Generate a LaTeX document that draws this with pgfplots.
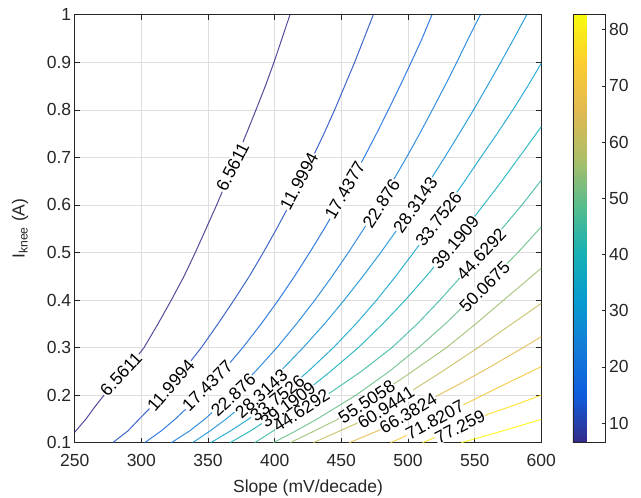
\documentclass[border=0pt]{standalone}
\usepackage{fontspec}
\setmainfont{Liberation Sans}
\setsansfont{Liberation Sans}
\usepackage{pgfplots}
\pgfplotsset{compat=1.18}

\definecolor{txt}{rgb}{0.15,0.15,0.15}
\definecolor{gridc}{rgb}{0.87,0.87,0.87}
\newcommand\fs{\fontsize{17.5bp}{21bp}\selectfont}

\pgfplotsset{
  colormap={parula}{
    rgb=(0.2081,0.1663,0.5292) rgb=(0.0591,0.3598,0.8683)
    rgb=(0.0723,0.4887,0.8467) rgb=(0.0265,0.6137,0.8135)
    rgb=(0.0843,0.6928,0.7062) rgb=(0.3482,0.7424,0.5473)
    rgb=(0.6834,0.7435,0.4044) rgb=(0.8824,0.7274,0.3217)
    rgb=(0.9880,0.8066,0.1794) rgb=(0.9763,0.9831,0.0538)},
  lvl/.style={mesh, line width=1bp, draw opacity=0.85, point meta=#1},
}

% contour labels: x, y, angle, text
\newcommand\contourlabels[2]{%
  \node[#1, rotate=47] at (axis cs:284.75,0.244) {#2{6.5611}};
  \node[#1, rotate=63] at (axis cs:368.4,0.68) {#2{6.5611}};
  \node[#1, rotate=49] at (axis cs:322.1,0.221) {#2{11.9994}};
  \node[#1, rotate=62] at (axis cs:418.4,0.65) {#2{11.9994}};
  \node[#1, rotate=45] at (axis cs:349.6,0.22) {#2{17.4377}};
  \node[#1, rotate=60] at (axis cs:452.7,0.631) {#2{17.4377}};
  \node[#1, rotate=43] at (axis cs:369,0.2) {#2{22.876}};
  \node[#1, rotate=57] at (axis cs:480,0.603) {#2{22.876}};
  \node[#1, rotate=42] at (axis cs:390,0.203) {#2{28.3143}};
  \node[#1, rotate=55] at (axis cs:505.5,0.6) {#2{28.3143}};
  \node[#1, rotate=38] at (axis cs:402,0.193) {#2{33.7526}};
  \node[#1, rotate=52] at (axis cs:523,0.57) {#2{33.7526}};
  \node[#1, rotate=37] at (axis cs:410,0.18) {#2{39.1909}};
  \node[#1, rotate=50] at (axis cs:535.5,0.521) {#2{39.1909}};
  \node[#1, rotate=33] at (axis cs:420,0.168) {#2{44.6292}};
  \node[#1, rotate=47] at (axis cs:555,0.496) {#2{44.6292}};
  \node[#1, rotate=45] at (axis cs:557.5,0.428) {#2{50.0675}};
  \node[#1, rotate=33] at (axis cs:469,0.186) {#2{55.5058}};
  \node[#1, rotate=32.5] at (axis cs:483.5,0.174) {#2{60.9441}};
  \node[#1, rotate=31] at (axis cs:500.2,0.162) {#2{66.3824}};
  \node[#1, rotate=28] at (axis cs:520.2,0.148) {#2{71.8207}};
  \node[#1, rotate=27] at (axis cs:539,0.134) {#2{77.259}};
}

\begin{document}
\begin{tikzpicture}
\path[use as bounding box] (-74.7bp,-55.3bp) rectangle (566.3bp,442.7bp);
\begin{axis}[
  at={(0,0)}, anchor=south west,
  scale only axis, width=466.6bp, height=428bp,
  xmin=250, xmax=600, ymin=0.1, ymax=1,
  xtick={250,300,...,600},
  ytick={0.1,0.2,0.3,0.4,0.5,0.6,0.7,0.8,0.9,1},
  scaled y ticks=false,
  /pgf/number format/assume math mode=true,
  yticklabel style={/pgf/number format/fixed, /pgf/number format/precision=1},
  xticklabel style={yshift=-8bp},
  ticklabel style={font=\fs, text=txt},
  grid=major, major grid style={gridc, line width=0.6bp},
  tick align=inside, major tick length=5bp,
  tick style={txt, line width=0.6bp},
  axis line style={txt, line width=0.6bp},
  xlabel={Slope (mV/decade)},
  xlabel style={font=\fs, text=txt, at={(axis description cs:0.5,0)}, anchor=base, yshift=-50bp},
  ylabel={I\textsubscript{knee} (A)},
  ylabel style={font=\fs, text=txt, at={(axis description cs:-0.117,0.5)}, anchor=center},
  colormap name=parula,
  point meta min=6.5, point meta max=82.65,
  colorbar,
  colorbar style={
    at={(parent axis.north east)}, anchor=north west, xshift=23bp,
    width=32.7bp, scale only axis,
    ytick={10,20,...,80},
    ytick pos=right, yticklabel pos=right,
    tick align=inside, major tick length=4bp,
    tick style={txt, line width=0.6bp},
    axis line style={txt, line width=0.6bp},
    /pgf/number format/assume math mode=true,
    yticklabel style={font=\fs, text=txt},
  },
]
\addplot[lvl=6.5611] coordinates {(250,0.122) (258.5,0.15) (265,0.175) (272,0.2) (280,0.225) (287,0.25) (295,0.275) (302,0.3) (312.5,0.35) (322.5,0.4) (332,0.45) (340.5,0.5) (348.5,0.55) (356.5,0.6) (364,0.65) (371.5,0.7) (378.8,0.75) (386,0.8) (393,0.85) (399.5,0.9) (405.5,0.95) (411.5,1)};
\addplot[lvl=11.9994] coordinates {(278.5,0.1) (290,0.125) (298.5,0.15) (316,0.2) (331,0.25) (345,0.3) (357.5,0.35) (369.5,0.4) (381,0.45) (391.5,0.5) (401.5,0.55) (411,0.6) (420,0.65) (428.5,0.7) (437,0.75) (445,0.8) (452.5,0.85) (460,0.9) (467,0.95) (474,1)};
\addplot[lvl=17.4377] coordinates {(302.5,0.1) (315,0.125) (325.5,0.15) (344.4,0.2) (361,0.25) (376.1,0.3) (389.9,0.35) (402.8,0.4) (414.9,0.45) (426.3,0.5) (437.2,0.55) (447.6,0.6) (457.5,0.65) (467.1,0.7) (476.4,0.75) (485.3,0.8) (494,0.85) (502.4,0.9) (510.6,0.95) (518,1)};
\addplot[lvl=22.876] coordinates {(322.5,0.1) (336.3,0.125) (347.7,0.15) (367.8,0.2) (385.6,0.25) (401.7,0.3) (416.4,0.35) (430.2,0.4) (443.1,0.45) (455.3,0.5) (466.9,0.55) (478,0.6) (488.6,0.65) (498.9,0.7) (508.8,0.75) (518.3,0.8) (527.6,0.85) (536.6,0.9) (545.3,0.95) (554.3,1)};
\addplot[lvl=28.3143] coordinates {(338.4,0.1) (351.7,0.125) (363.7,0.15) (385.2,0.2) (404.2,0.25) (421.4,0.3) (437.4,0.35) (452.2,0.4) (466.2,0.45) (479.6,0.5) (492.3,0.55) (504.4,0.6) (516.2,0.65) (527.5,0.7) (538.5,0.75) (549.2,0.8) (559.5,0.85) (569.6,0.9) (579.5,0.95) (589.1,1)};
\addplot[lvl=33.7526] coordinates {(352,0.1) (367,0.125) (380.6,0.15) (404.4,0.2) (425.1,0.25) (444.1,0.3) (461,0.35) (476.5,0.4) (490.8,0.45) (504.2,0.5) (517.4,0.55) (530,0.6) (542.5,0.65) (554.6,0.7) (566.9,0.75) (578.7,0.8) (589.9,0.85) (600,0.898)};
\addplot[lvl=39.1909] coordinates {(366.5,0.1) (382,0.125) (395.7,0.15) (419.8,0.2) (441.9,0.25) (462.8,0.3) (481.1,0.35) (498,0.4) (513.7,0.45) (528.5,0.5) (542.9,0.55) (556.7,0.6) (570.3,0.65) (583.3,0.7) (600,0.7645)};
\addplot[lvl=44.6292] coordinates {(385,0.1) (399,0.125) (412,0.15) (439,0.2) (465,0.25) (488,0.3) (507,0.35) (524,0.4) (540,0.45) (555.5,0.5) (570.5,0.55) (585.5,0.6) (600,0.652)};
\addplot[lvl=50.0675] coordinates {(399,0.1) (416,0.125) (432,0.15) (461,0.2) (486,0.25) (508,0.3) (528,0.35) (546.5,0.4) (565,0.45) (582.5,0.5) (600,0.554)};
\addplot[lvl=55.5058] coordinates {(411.5,0.1) (430,0.125) (446.5,0.148) (468,0.186) (494,0.232) (511,0.265) (528.9,0.3) (550.9,0.35) (571.8,0.4) (600,0.467)};
\addplot[lvl=60.9441] coordinates {(429,0.1) (445,0.12) (461,0.14) (483,0.174) (505,0.213) (525.7,0.25) (552.6,0.3) (578,0.35) (600,0.393)};
\addplot[lvl=66.3824] coordinates {(456,0.1) (479,0.127) (500,0.163) (521.5,0.198) (541,0.227) (562,0.26) (581,0.291) (600,0.323)};
\addplot[lvl=71.8207] coordinates {(487,0.1) (496.5,0.112) (520,0.148) (544,0.183) (572,0.222) (600,0.26)};
\addplot[lvl=77.259] coordinates {(511,0.1) (520,0.111) (539,0.134) (560,0.16) (580,0.179) (600,0.2)};
\addplot[lvl=82.6973] coordinates {(540,0.1) (570,0.124) (600,0.149)};

\contourlabels{font=\fs, fill=white, inner sep=0.5bp}{\phantom}
\contourlabels{font=\fs, text=black, inner sep=0.5bp}{\relax}
\end{axis}
\end{tikzpicture}
\end{document}
